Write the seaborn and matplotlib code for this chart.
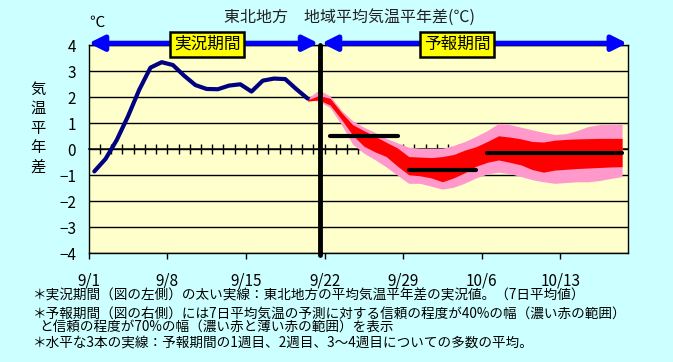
import numpy as np
import pandas as pd
import seaborn as sns
import matplotlib.pyplot as plt

# observed 7-day mean temperature anomaly (9/1 - 9/20)
obs_dates = pd.date_range("2015-09-01", "2015-09-20")
obs_values = [-0.85, -0.37, 0.36, 1.27, 2.29, 3.14, 3.35, 3.24, 2.83, 2.47,
              2.32, 2.31, 2.45, 2.50, 2.22, 2.64, 2.72, 2.70, 2.31, 1.95]

# forecast ranges (9/20 - 10/18)
fc_dates = pd.date_range("2015-09-20", "2015-10-18")
p70_hi = [1.96, 2.28, 2.05, 1.50, 1.10, 0.85, 0.65, 0.42, 0.25, 0.08,
          0.04, 0.04, 0.04, 0.15, 0.30, 0.50, 0.72, 1.00, 0.95, 0.85,
          0.75, 0.65, 0.57, 0.60, 0.72, 0.88, 0.95, 0.96, 0.96]
p70_lo = [1.90, 1.85, 1.60, 0.95, 0.20, -0.15, -0.40, -0.68, -1.00, -1.31,
          -1.31, -1.42, -1.53, -1.46, -1.30, -1.10, -0.95, -0.88, -0.94, -1.05,
          -1.17, -1.25, -1.31, -1.28, -1.25, -1.25, -1.20, -1.12, -1.05]
p40_hi = [1.90, 2.07, 1.96, 1.42, 0.95, 0.72, 0.50, 0.27, 0.05, -0.28,
          -0.30, -0.32, -0.28, -0.20, -0.03, 0.10, 0.30, 0.52, 0.47, 0.40,
          0.30, 0.28, 0.35, 0.38, 0.40, 0.41, 0.42, 0.42, 0.42]
p40_lo = [1.85, 1.90, 1.70, 1.15, 0.55, 0.12, -0.10, -0.28, -0.65, -0.98,
          -1.02, -1.10, -1.25, -1.10, -0.90, -0.65, -0.50, -0.41, -0.50, -0.60,
          -0.78, -0.88, -0.80, -0.77, -0.74, -0.72, -0.70, -0.68, -0.67]

# ensemble mean: week 1, week 2, weeks 3-4
week_start = ["2015-09-22", "2015-09-29", "2015-10-06"]
week_end = ["2015-09-28", "2015-10-05", "2015-10-18"]
week_mean = [0.52, -0.78, -0.13]

xtick_labels = ["9/1", "9/8", "9/15", "9/22", "9/29", "10/6", "10/13"]
base = pd.Timestamp("2015-09-01")
n_days = 48
boundary = 20.6  # end of observed period (days after 9/1)


def center(d):
    # each day is a category, points sit in the middle of it
    return (pd.to_datetime(d) - base).days + 0.5


obs_x = [center(d) for d in obs_dates]
fc_x = [center(d) for d in fc_dates]
tick_x = [(pd.Timestamp("2015/" + t) - base).days for t in xtick_labels]

wk = pd.DataFrame({
    "x": [center(d) for d in week_start] + [center(d) for d in week_end],
    "y": week_mean + week_mean,
    "week": [1, 2, 3, 1, 2, 3],
})

sns.set_theme(style="white")
plt.rcParams["font.family"] = ["Noto Sans CJK JP", "DejaVu Sans"]

fig = plt.figure(figsize=(6.73, 3.62), dpi=100, facecolor="#CCFFFF")
ax = fig.add_axes([0.1318, 0.3003, 0.8009, 0.5746])
ax.set_facecolor("#FFFFCC")

ax.fill_between(fc_x, p70_lo, p70_hi, color="#FF99CC", lw=0, zorder=1)
ax.fill_between(fc_x, p40_lo, p40_hi, color="#FF0000", lw=0, zorder=1.1)
sns.lineplot(x=obs_x, y=obs_values, ax=ax, color="#000080", lw=3, zorder=3)
sns.lineplot(data=wk, x="x", y="y", units="week", estimator=None, ax=ax,
             color="black", lw=3, solid_capstyle="round", zorder=4)
ax.axvline(boundary, ymin=-0.01, ymax=1, color="black", lw=3.5, zorder=5, clip_on=False)

ax.set_xlim(0, n_days)
ax.set_ylim(-4, 4)
ax.set_yticks(range(-4, 5))
ax.set_xticks(tick_x)
ax.set_xticklabels(xtick_labels)
ax.set_xlabel("")
ax.set_ylabel("")
ax.set_axisbelow(True)
ax.yaxis.grid(True, color="black", lw=1)
ax.xaxis.grid(False)
for s in ax.spines.values():
    s.set_color("black")
    s.set_linewidth(1)
ax.tick_params(axis="y", length=0, pad=9, labelsize=11, colors="black")
ax.tick_params(axis="x", bottom=True, direction="out", length=4.5, width=1,
               pad=9, labelsize=11, colors="black")

# daily tick marks on the zero line
sec = ax.secondary_xaxis(0.5)
sec.set_xticks(np.arange(1, n_days))
sec.tick_params(direction="inout", length=7, width=1, color="black",
                labelbottom=False, labeltop=False)

# period arrows and labels
arrow_kw = dict(arrowstyle="<|-|>,head_length=0.9,head_width=0.45", color="#0000FF",
                lw=3.6, shrinkA=0, shrinkB=0, mutation_scale=10)
ax.annotate("", xy=(0, 4.08), xytext=(20.45, 4.08), arrowprops=arrow_kw,
            annotation_clip=False, zorder=6)
ax.annotate("", xy=(20.75, 4.08), xytext=(47.95, 4.08), arrowprops=arrow_kw,
            annotation_clip=False, zorder=6)
box = dict(boxstyle="square,pad=0.22", fc="#FFFF00", ec="black", lw=1.8)
ax.text(10.55, 4.03, "実況期間", ha="center", va="center", fontsize=12,
        bbox=box, zorder=7, color="black")
ax.text(32.8, 4.03, "予報期間", ha="center", va="center", fontsize=12,
        bbox=box, zorder=7, color="black")

fig.text(0.52, 0.953, "東北地方　地域平均気温平年差(℃)", ha="center", va="center",
         fontsize=11.5, color="#222222")
fig.text(0.144, 0.937, "℃", ha="center", va="center", fontsize=11, color="black")
fig.text(0.0565, 0.6455, "\n".join("気温平年差"), ha="center", va="center",
         fontsize=11, linespacing=1.2, color="black")

notes = [
    (0.049, 295.5, "＊実況期間（図の左側）の太い実線：東北地方の平均気温平年差の実況値。（7日平均値）"),
    (0.049, 313.5, "＊予報期間（図の右側）には7日平均気温の予測に対する信頼の程度が40%の幅（濃い赤の範囲）"),
    (0.058, 327, "と信頼の程度が70%の幅（濃い赤と薄い赤の範囲）を表示"),
    (0.049, 342.5, "＊水平な3本の実線：予報期間の1週目、2週目、3～4週目についての多数の平均。"),
]
for x, y, t in notes:
    fig.text(x, 1 - y / 362, t, ha="left", va="center", fontsize=9.8, color="black")

fig.savefig("out.png", dpi=100, facecolor=fig.get_facecolor())
